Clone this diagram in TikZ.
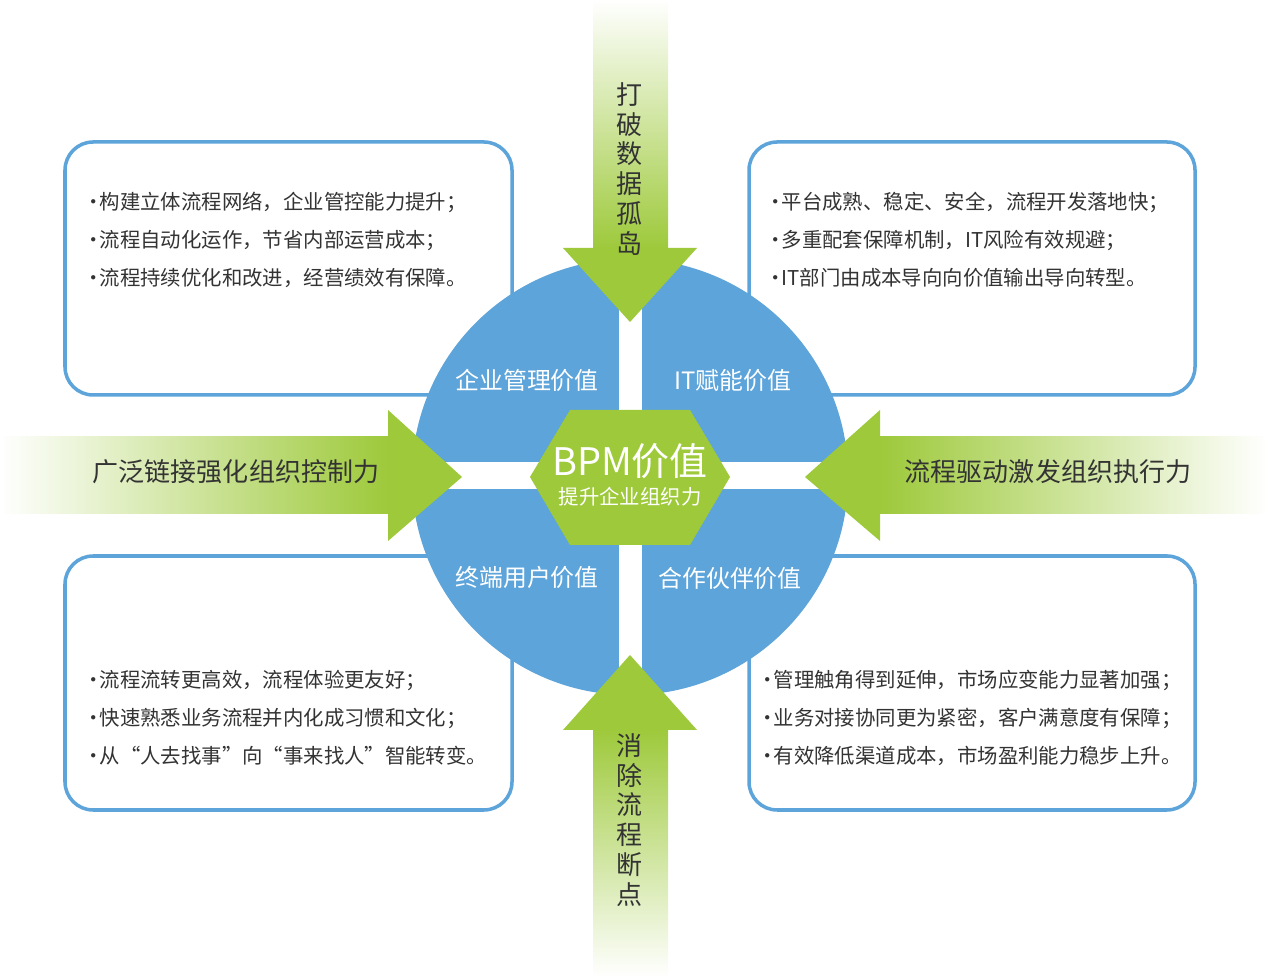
\documentclass[tikz,border=0pt]{standalone}
\usepackage{fontspec}
\setmainfont{Noto Sans CJK SC}
\usetikzlibrary{positioning, shapes.geometric}
\definecolor{bpmblue}{RGB}{93,164,218}
\definecolor{bpmgreen}{RGB}{157,201,58}
\definecolor{bpmtext}{RGB}{51,51,51}
\newcommand\dotmark{\makebox[0.55em][c]{·}}
\tikzset{
  infobox/.style={draw=bpmblue, line width=1pt, fill=white, rounded corners=8pt},
  infotext/.style={text=bpmtext, font=\fontsize{5.8}{10.8}\selectfont, align=left, anchor=west},
  quadlabel/.style={text=white, font=\fontsize{6.8}{8}\selectfont},
  arrowlabel/.style={text=bpmtext, font=\fontsize{7.4}{8.5}\selectfont, align=center}
}
\begin{document}
\begin{tikzpicture}[x=0.01cm, y=-0.01cm]
    \useasboundingbox (0,0) rectangle (1267,977);
    % boxes
    \draw[infobox] (65,142) rectangle (512,395);
    \draw[infobox] (749,142) rectangle (1195,395);
    \draw[infobox] (65,556) rectangle (512,810);
    \draw[infobox] (749,556) rectangle (1195,810);
    % circle and cross
    \node[circle, fill=bpmblue, minimum size=4.36cm, inner sep=0pt] (core) at (630,477) {};
    \fill[white] (619,255) rectangle (642,700);
    \fill[white] (405,462) rectangle (855,489);
    % arrows
    \shade[top color=white, bottom color=bpmgreen] (593,0) rectangle (668,250);
    \fill[bpmgreen] (563,248) -- (697,248) -- (630,322) -- cycle;
    \shade[bottom color=white, top color=bpmgreen] (593,728) rectangle (668,977);
    \fill[bpmgreen] (563,730) -- (697,730) -- (630,655) -- cycle;
    \shade[left color=white, right color=bpmgreen] (0,437) rectangle (390,514);
    \fill[bpmgreen] (388,410) -- (388,541) -- (462,477) -- cycle;
    \shade[right color=white, left color=bpmgreen] (878,437) rectangle (1267,514);
    \fill[bpmgreen] (880,410) -- (880,541) -- (805,477) -- cycle;
    % hexagon
    \fill[bpmgreen] (530,477) -- (570,410) -- (690,410) -- (730,477) -- (690,545) -- (570,545) -- cycle;
    \node[text=white, font=\fontsize{10.8}{12}\selectfont] (bpm) at (630,461) {BPM价值};
    \node[text=white, font=\fontsize{5.8}{7}\selectfont] (bpmsub) at (630,497) {提升企业组织力};
    % quadrant labels
    \node[quadlabel] (q1) at (527,380) {企业管理价值};
    \node[quadlabel] (q2) at (733,380) {IT赋能价值};
    \node[quadlabel] (q3) at (527,577) {终端用户价值};
    \node[quadlabel] (q4) at (730,578) {合作伙伴价值};
    % arrow labels
    \node[arrowlabel] (a1) at (630,169) {打\\破\\数\\据\\孤\\岛};
    \node[arrowlabel] (a2) at (630,820) {消\\除\\流\\程\\断\\点};
    \node[arrowlabel] (a3) at (236,472) {广泛链接强化组织控制力};
    \node[arrowlabel] (a4) at (1048,472) {流程驱动激发组织执行力};
    % box texts
    \node[infotext] (t1) at (76,240) {\dotmark{}构建立体流程网络，企业管控能力提升；\\\dotmark{}流程自动化运作，节省内部运营成本；\\\dotmark{}流程持续优化和改进，经营绩效有保障。};
    \node[infotext] (t2) at (758,240) {\dotmark{}平台成熟、稳定、安全，流程开发落地快；\\\dotmark{}多重配套保障机制，IT风险有效规避；\\\dotmark{}IT部门由成本导向向价值输出导向转型。};
    \node[infotext] (t3) at (76,718) {\dotmark{}流程流转更高效，流程体验更友好；\\\dotmark{}快速熟悉业务流程并内化成习惯和文化；\\\dotmark{}从“人去找事”向“事来找人”智能转变。};
    \node[infotext] (t4) at (750,718) {\dotmark{}管理触角得到延伸，市场应变能力显著加强；\\\dotmark{}业务对接协同更为紧密，客户满意度有保障；\\\dotmark{}有效降低渠道成本，市场盈利能力稳步上升。};
\end{tikzpicture}
\end{document}
